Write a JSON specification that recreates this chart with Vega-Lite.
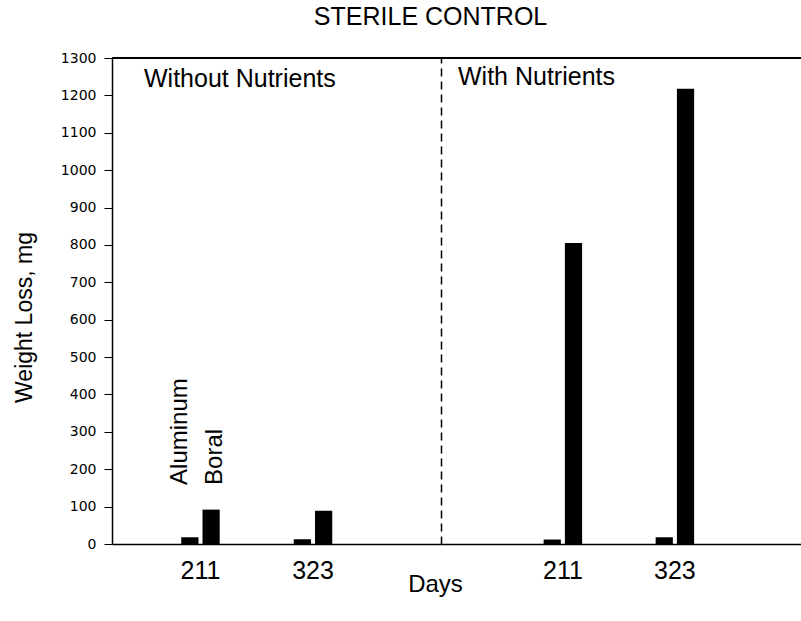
{
  "$schema": "https://vega.github.io/schema/vega-lite/v6.json",
  "padding": {"left": 13, "top": 5, "right": 1, "bottom": 5},
  "background": "white",
  "bounds": "flush",
  "title": {"text": "STERILE CONTROL", "fontSize": 25, "fontWeight": "normal", "font": "Liberation Sans", "anchor": "middle", "dx": 23, "offset": 21, "color": "black"},
  "config": {"view": {"stroke": null}, "font": "Liberation Sans", "concat": {"spacing": 0}},
  "spacing": 0,
  "data": {"values": [
    {"cond": "Without Nutrients", "day": "211", "material": "Aluminum", "loss": 18},
    {"cond": "Without Nutrients", "day": "211", "material": "Boral", "loss": 92},
    {"cond": "Without Nutrients", "day": "323", "material": "Aluminum", "loss": 13},
    {"cond": "Without Nutrients", "day": "323", "material": "Boral", "loss": 89},
    {"cond": "With Nutrients", "day": "211", "material": "Aluminum", "loss": 12},
    {"cond": "With Nutrients", "day": "211", "material": "Boral", "loss": 805},
    {"cond": "With Nutrients", "day": "323", "material": "Aluminum", "loss": 18},
    {"cond": "With Nutrients", "day": "323", "material": "Boral", "loss": 1218}
  ]},
  "hconcat": [
    {
      "width": 329, "height": 486,
      "transform": [{"filter": "datum.cond == 'Without Nutrients'"}],
      "title": {"text": "Without Nutrients", "fontSize": 25, "fontWeight": "normal", "anchor": "start", "frame": "group", "dx": 32, "offset": -61, "baseline": "alphabetic", "color": "black"},
      "resolve": {"axis": {"y": "independent"}},
      "layer": [
        {
          "mark": {"type": "bar", "color": "black"},
          "encoding": {
            "x": {"field": "day", "type": "nominal", "scale": {"paddingInner": 0.658, "paddingOuter": 0.791, "align": 0.389},
                  "axis": {"title": "Days", "titleFontSize": 24, "titleFontWeight": "normal", "titleColor": "black", "titleX": 323, "titleY": 40, "titleBaseline": "middle", "titleAlign": "center", "labelAngle": 0, "labelFontSize": 25, "labelColor": "black", "labelPadding": 14, "ticks": false, "domainColor": "black", "domainWidth": 1.5}},
            "xOffset": {"field": "material", "type": "nominal", "scale": {"paddingInner": 0.19, "paddingOuter": 0}},
            "y": {"field": "loss", "type": "quantitative", "scale": {"domain": [0, 1300], "nice": false},
                  "axis": {"title": "Weight Loss, mg", "titleFontSize": 23, "titleFontWeight": "normal", "titleColor": "black", "titlePadding": 24, "titleY": 259, "values": [0,100,200,300,400,500,600,700,800,900,1000,1100,1200,1300], "labelOverlap": false, "format": "d", "labelFont": "DejaVu Sans", "labelFontSize": 14, "labelColor": "black", "labelPadding": 8, "tickSize": 8, "tickColor": "black", "domainColor": "black", "domainWidth": 1.5, "grid": false}}
          }
        },
        {"mark": {"type": "rule", "color": "black", "strokeWidth": 1.5},
         "encoding": {"y": {"datum": 1300, "type": "quantitative", "axis": null}}},
        {
          "transform": [{"filter": "datum.day == '211' && datum.material == 'Aluminum'"}],
          "mark": {"type": "text", "angle": 270, "align": "left", "baseline": "alphabetic", "fontSize": 24, "color": "black", "dy": -3},
          "encoding": {"x": {"field": "day", "type": "nominal"}, "xOffset": {"field": "material", "type": "nominal"}, "y": {"datum": 158, "type": "quantitative", "axis": null}, "text": {"field": "material"}}
        },
        {
          "transform": [{"filter": "datum.day == '211' && datum.material == 'Boral'"}],
          "mark": {"type": "text", "angle": 270, "align": "left", "baseline": "alphabetic", "fontSize": 24, "color": "black", "dy": 11},
          "encoding": {"x": {"field": "day", "type": "nominal"}, "xOffset": {"field": "material", "type": "nominal"}, "y": {"datum": 158, "type": "quantitative", "axis": null}, "text": {"field": "material"}}
        }
      ]
    },
    {
      "width": 360, "height": 486,
      "transform": [{"filter": "datum.cond == 'With Nutrients'"}],
      "title": {"text": "With Nutrients", "fontSize": 25, "fontWeight": "normal", "anchor": "start", "frame": "group", "dx": 17, "offset": -53, "baseline": "alphabetic", "color": "black"},
      "resolve": {"axis": {"y": "independent"}},
      "layer": [
        {
          "mark": {"type": "bar", "color": "black"},
          "encoding": {
            "x": {"field": "day", "type": "nominal", "scale": {"paddingInner": 0.656, "paddingOuter": 0.935, "align": 0.49},
                  "axis": {"title": null, "labelAngle": 0, "labelFontSize": 25, "labelColor": "black", "labelPadding": 14, "ticks": false, "domainColor": "black", "domainWidth": 1.5}},
            "xOffset": {"field": "material", "type": "nominal", "scale": {"paddingInner": 0.19, "paddingOuter": 0}},
            "y": {"field": "loss", "type": "quantitative", "scale": {"domain": [0, 1300], "nice": false},
                  "axis": {"title": null, "labels": false, "ticks": false, "grid": false, "minExtent": 0, "maxExtent": 0, "domainColor": "black", "domainWidth": 1.5, "domainDash": [8, 5]}}
          }
        },
        {"mark": {"type": "rule", "color": "black", "strokeWidth": 1.5},
         "encoding": {"y": {"datum": 1300, "type": "quantitative", "axis": null}}}
      ]
    }
  ]
}
